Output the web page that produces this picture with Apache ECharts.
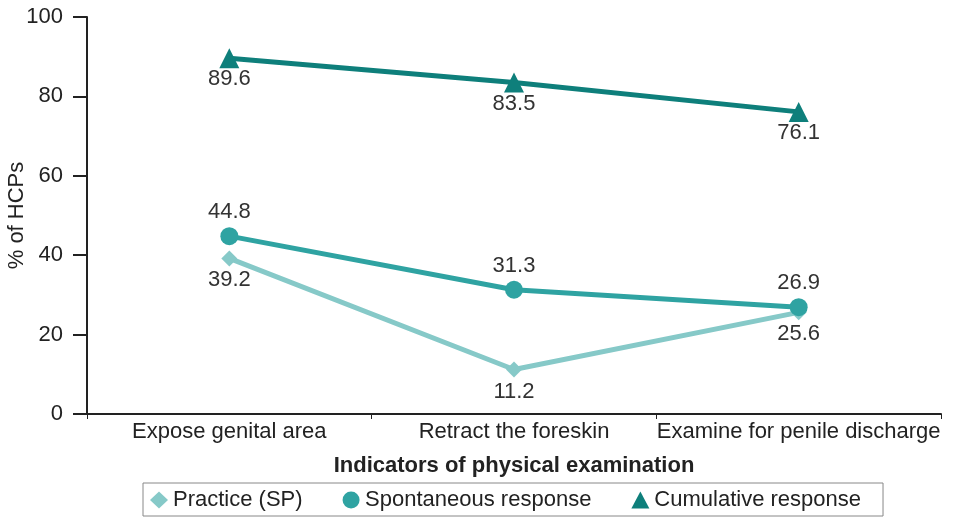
<!DOCTYPE html>
<html><head><meta charset="utf-8">
<script src="https://cdn.jsdelivr.net/npm/echarts@6/dist/echarts.min.js"></script>
<style>html,body{margin:0;padding:0;background:#fff}#c{width:955px;height:519px}</style>
</head><body><div id="c"></div>
<script>
const categories = ['Expose genital area', 'Retract the foreskin', 'Examine for penile discharge'];
const practiceSP = [39.2, 11.2, 25.6];
const spontaneous = [44.8, 31.3, 26.9];
const cumulative = [89.6, 83.5, 76.1];
const seriesNames = ['Practice (SP)', 'Spontaneous response', 'Cumulative response'];

const font = 'Liberation Sans, Arial, sans-serif';
const chart = echarts.init(document.getElementById('c'));
function lbl(pos, d){return {show:true, position:pos, distance:d, color:'#333', fontSize:22, fontFamily:font};}
chart.setOption({
  animation:false,
  textStyle:{fontFamily:font},
  grid:{left:87, right:14, top:17, bottom:105, containLabel:false, outerBoundsMode:'none'},
  xAxis:{type:'category', data:categories, boundaryGap:true,
    name:'Indicators of physical examination', nameLocation:'middle', nameGap:41,
    nameTextStyle:{fontSize:22, fontWeight:'bold', color:'#222', fontFamily:font},
    axisLine:{lineStyle:{color:'#222', width:2}},
    axisTick:{show:true, length:5, lineStyle:{color:'#222'}},
    axisLabel:{interval:0, fontSize:22, color:'#222', margin:7, fontFamily:font}},
  yAxis:{type:'value', min:0, max:100, interval:20,
    name:'% of HCPs', nameLocation:'middle', nameGap:59, nameMoveOverlap:false,
    nameTextStyle:{fontSize:22, color:'#222', fontFamily:font},
    axisLine:{show:true, lineStyle:{color:'#222', width:2}},
    axisTick:{show:true, length:14, lineStyle:{color:'#222', width:2}},
    splitLine:{show:false},
    axisLabel:{fontSize:22, color:'#222', margin:24, fontFamily:font}},
  legend:{top:483, left:143, itemGap:40, itemWidth:18, itemHeight:17,
    borderColor:'#888', borderWidth:1, padding:[6,22,5,7],
    textStyle:{fontSize:22, color:'#222', fontFamily:font},
    data:[{name:seriesNames[0], icon:'diamond'},{name:seriesNames[1], icon:'circle'},{name:seriesNames[2], icon:'triangle'}]},
  series:[
    {name:seriesNames[0], type:'line', data:practiceSP, symbol:'diamond', symbolSize:16,
      lineStyle:{width:5, color:'#86c9c8'}, itemStyle:{color:'#86c9c8'}, label:lbl('bottom', 3), z:2},
    {name:seriesNames[1], type:'line', data:spontaneous, symbol:'circle', symbolSize:18,
      lineStyle:{width:5, color:'#2fa3a2'}, itemStyle:{color:'#2fa3a2'}, label:lbl('top', 4), z:3},
    {name:seriesNames[2], type:'line', data:cumulative, symbol:'triangle', symbolSize:20,
      lineStyle:{width:5, color:'#0e7f7b'}, itemStyle:{color:'#0e7f7b'}, label:lbl('bottom', 0), z:4}
  ]
});
</script></body></html>
